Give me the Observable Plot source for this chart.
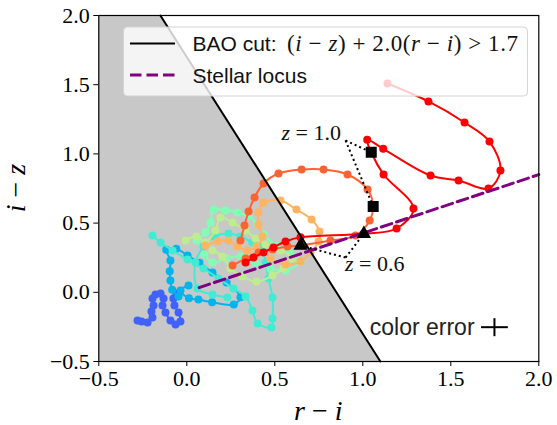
<!DOCTYPE html>
<html><head><meta charset="utf-8">
<script src="https://cdn.jsdelivr.net/npm/d3@7"></script>
<script src="https://cdn.jsdelivr.net/npm/@observablehq/plot@0.6"></script>
<style>
body{margin:0;background:#fff;}
#chart{width:557px;height:425px;position:relative;}
</style></head><body><div id="chart"></div>
<script>
// ---- axes ----
const xDomain = [-0.5, 2.0];
const yDomain = [-0.5, 2.0];
const xTicks = [-0.5, 0.0, 0.5, 1.0, 1.5, 2.0];
const yTicks = [-0.5, 0.0, 0.5, 1.0, 1.5, 2.0];
const xLabel = "r − i";
const yLabel = "i − z";

// ---- BAO cut: (i-z) + 2.0 (r-i) > 1.7 ----
const baoIntercept = 1.7;
const baoSlope = 2.0;

// ---- stellar locus (r-i, i-z) ----
const stellarLocus = [[0.07, 0.034], [2.0, 0.85]];

// ---- template colour tracks, (r-i, i-z) ----
const trackColors = ["#4062fa", "#00b4ec", "#40ecd4", "#80ffb4", "#bfec8e", "#ffb462", "#ff6232", "#ff0000"];
const trackBlue = [[-0.280,-0.204],[-0.257,-0.211],[-0.223,-0.218],[-0.195,-0.182],[-0.201,-0.139],[-0.189,-0.095],[-0.195,-0.045],[-0.178,-0.016],[-0.149,-0.009],[-0.132,-0.045],[-0.138,-0.095],[-0.121,-0.146],[-0.093,-0.204],[-0.064,-0.233],[-0.036,-0.211],[-0.047,-0.146],[-0.070,-0.095],[-0.076,-0.045],[-0.059,-0.009]];
const trackDodger = [[-0.047,-0.030],[-0.083,0.018],[-0.093,0.085],[-0.097,0.152],[-0.093,0.230],[-0.117,0.307],[-0.060,0.314],[0.004,0.266],[0.072,0.213],[0.146,0.143],[0.226,0.071],[0.305,-0.035],[0.267,-0.088],[0.144,-0.072],[0.066,-0.052],[0.012,-0.043],[-0.036,0.013],[0.010,0.049]];
const trackTurquoise = [[-0.195,0.410],[-0.149,0.360],[-0.081,0.302],[0.004,0.237],[0.095,0.172],[0.180,0.100],[0.265,0.027],[0.334,-0.030],[0.373,-0.132],[0.402,-0.225],[0.481,-0.254],[0.487,-0.189],[0.487,-0.038],[0.464,0.100],[0.447,0.215],[0.430,0.331],[0.373,0.360],[0.305,0.403],[0.237,0.425],[0.157,0.403],[0.095,0.331],[0.049,0.215],[0.061,0.027],[0.146,-0.016],[0.231,-0.038]];
const trackAqua = [[0.055,0.374],[0.106,0.432],[0.135,0.504],[0.152,0.598],[0.220,0.591],[0.288,0.577],[0.351,0.548],[0.402,0.490],[0.436,0.418],[0.510,0.338],[0.589,0.288],[0.646,0.223],[0.561,0.158],[0.475,0.172],[0.390,0.215],[0.305,0.259],[0.226,0.244],[0.146,0.215],[0.100,0.273]];
const trackLime = [[-0.007,0.374],[0.055,0.403],[0.106,0.360],[0.163,0.447],[0.191,0.541],[0.260,0.504],[0.334,0.447],[0.390,0.389],[0.447,0.345],[0.532,0.302],[0.601,0.244],[0.549,0.172],[0.487,0.121],[0.396,0.078],[0.316,0.114],[0.248,0.172],[0.203,0.259],[0.146,0.302]];
const trackSand = [[0.106,0.338],[0.175,0.367],[0.237,0.374],[0.288,0.331],[0.345,0.302],[0.396,0.331],[0.430,0.403],[0.407,0.490],[0.407,0.577],[0.436,0.649],[0.532,0.663],[0.623,0.598],[0.709,0.526],[0.754,0.439],[0.749,0.367],[0.703,0.288],[0.646,0.223],[0.561,0.201],[0.475,0.244]];
const trackTomato = [[0.260,0.194],[0.334,0.244],[0.408,0.288],[0.487,0.309],[0.572,0.331],[0.646,0.338],[0.816,0.374],[0.959,0.410],[1.039,0.519],[1.059,0.620],[1.027,0.743],[0.913,0.851],[0.777,0.887],[0.652,0.887],[0.521,0.858],[0.436,0.786],[0.385,0.685],[0.351,0.584],[0.328,0.483],[0.305,0.374]];
const trackRed = [[0.334,0.215],[0.379,0.251],[0.436,0.288],[0.493,0.324],[0.561,0.367],[0.646,0.397],[1.006,0.423],[1.192,0.461],[1.288,0.605],[1.118,0.851],[1.048,1.012],[1.025,1.102],[1.116,1.037],[1.385,0.844],[1.544,0.808],[1.714,0.750],[1.782,0.880],[1.720,1.089],[1.578,1.227],[1.373,1.379],[1.140,1.509]];
const tracks = [trackBlue, trackDodger, trackTurquoise, trackAqua, trackLime, trackSand, trackTomato, trackRed];

// ---- redshift markers ----
const zSquares = [[1.048, 1.012], [1.059, 0.620]];   // z = 1.0
const zTriangles = [[0.646, 0.338], [1.006, 0.423]]; // z = 0.6
const z10Corner = [0.902, 1.097];
const z06Corner = [0.902, 0.251];
const z10Text = ["z", " = 1.0"];
const z06Text = ["z", " = 0.6"];
const z10TextPos = [0.879, 1.097];
const z06TextPos = [0.902, 0.147];

// ---- colour error cross ----
const errorCenter = [1.748, -0.252];
const errorX = 0.076;
const errorY = 0.065;
const errorLabel = "color error";

// ---- legend ----
const legendBao = "BAO cut:";
const legendStar = "Stellar locus";

const fmt = d => d.toFixed(1).replace("-", "\u2212");
const X = d => d[0], Y = d => d[1];

const marks = [
  Plot.areaX(yDomain, {y: d => d, x1: () => xDomain[0], x2: d => (baoIntercept - d) / baoSlope, fill: "#c8c8c8"})
];
tracks.forEach((t, i) => {
  marks.push(Plot.line(t, {x: X, y: Y, stroke: trackColors[i], strokeWidth: 2, curve: "catmull-rom"}));
  marks.push(Plot.dot(t, {x: X, y: Y, r: 4, fill: trackColors[i], stroke: "none"}));
});
marks.push(
  Plot.line(yDomain, {x: d => (baoIntercept - d) / baoSlope, y: d => d, stroke: "black", strokeWidth: 2}),
  Plot.line(stellarLocus, {x: X, y: Y, stroke: "#800080", strokeWidth: 3, strokeDasharray: "11,5"}),
  Plot.link(zSquares, {x1: () => z10Corner[0], y1: () => z10Corner[1], x2: X, y2: Y, stroke: "black", strokeWidth: 2, strokeDasharray: "2,3"}),
  Plot.link(zTriangles, {x1: () => z06Corner[0], y1: () => z06Corner[1], x2: X, y2: Y, stroke: "black", strokeWidth: 2, strokeDasharray: "2,3"}),
  Plot.dot(zSquares, {x: X, y: Y, symbol: "square", r: 6.2, fill: "black"}),
  Plot.dot(zTriangles, {x: X, y: Y, symbol: "triangle", r: 5.3, fill: "black"}),
  Plot.link([errorCenter], {x1: d => d[0] - errorX, x2: d => d[0] + errorX, y1: Y, y2: Y, stroke: "black", strokeWidth: 2}),
  Plot.link([errorCenter], {x1: X, x2: X, y1: d => d[1] - errorY, y2: d => d[1] + errorY, stroke: "black", strokeWidth: 2}),
  Plot.text([errorLabel], {x: () => errorCenter[0] - 0.113, y: () => errorCenter[1], text: d => d, textAnchor: "end", lineAnchor: "middle", fontFamily: "Liberation Sans", fontSize: 23, fill: "#222"}),
  Plot.frame({stroke: "black", strokeWidth: 1.2})
);

const chart = Plot.plot({
  width: 557, height: 425,
  marginLeft: 98.3, marginRight: 18.7, marginTop: 15, marginBottom: 64,
  x: {domain: xDomain, ticks: xTicks, tickFormat: fmt, tickSize: 5, tickPadding: 4, label: null},
  y: {domain: yDomain, ticks: yTicks, tickFormat: fmt, tickSize: 5, tickPadding: 4, label: null},
  style: {fontFamily: "Liberation Serif", fontSize: "22px", background: "white", color: "black", overflow: "visible"},
  marks
});
document.getElementById("chart").appendChild(chart);

const xs = chart.scale("x"), ys = chart.scale("y");
const svg = d3.select(chart);
const serif = "Liberation Serif", sans = "Liberation Sans";

function mathText(x, y, parts, anchor, size) {
  const t = svg.append("text").attr("x", x).attr("y", y).attr("text-anchor", anchor)
    .attr("font-family", serif).attr("font-size", size).attr("fill", "#111");
  parts.forEach((p, i) => t.append("tspan").attr("font-style", i % 2 === 0 ? "italic" : "normal").text(p));
  return t;
}
// z labels
mathText(xs.apply(z10TextPos[0]), ys.apply(z10TextPos[1]), z10Text, "end", 22);
mathText(xs.apply(z06TextPos[0]), ys.apply(z06TextPos[1]), z06Text, "start", 22);

// axis labels
const xl = svg.append("text").attr("x", (xs.apply(xDomain[0]) + xs.apply(xDomain[1])) / 2).attr("y", 420)
  .attr("text-anchor", "middle").attr("font-family", serif).attr("font-size", 28);
xl.append("tspan").attr("font-style", "italic").text(xLabel.split(" ")[0]);
xl.append("tspan").text(" " + xLabel.split(" ")[1] + " ");
xl.append("tspan").attr("font-style", "italic").text(xLabel.split(" ")[2]);
const ycy = (ys.apply(yDomain[0]) + ys.apply(yDomain[1])) / 2;
const yl = svg.append("text").attr("transform", `translate(25,${ycy}) rotate(-90)`)
  .attr("text-anchor", "middle").attr("font-family", serif).attr("font-size", 28);
yl.append("tspan").attr("font-style", "italic").text(yLabel.split(" ")[0]);
yl.append("tspan").text(" " + yLabel.split(" ")[1] + " ");
yl.append("tspan").attr("font-style", "italic").text(yLabel.split(" ")[2]);

// legend
const lg = svg.append("g").attr("text-anchor", "start");
lg.append("rect").attr("x", 123.5).attr("y", 27).attr("width", 404).attr("height", 69).attr("rx", 4)
  .attr("fill", "white").attr("fill-opacity", 0.8).attr("stroke", "#d4d4d4").attr("stroke-width", 1);
lg.append("line").attr("x1", 130).attr("x2", 175).attr("y1", 43.5).attr("y2", 43.5).attr("stroke", "black").attr("stroke-width", 2);
lg.append("text").attr("x", 192.5).attr("y", 51).attr("text-anchor", "start").attr("font-family", sans).attr("font-size", 21).attr("fill", "#111").text(legendBao);
const mt = lg.append("text").attr("x", 287).attr("y", 51).attr("text-anchor", "start").attr("font-family", serif).attr("font-size", 23)
  .attr("fill", "#111").attr("textLength", 231).attr("lengthAdjust", "spacing");
[["(", 0], ["i", 1], [" − ", 0], ["z", 1], [") + 2.0(", 0], ["r", 1], [" − ", 0], ["i", 1], [") > 1.7", 0]]
  .forEach(([s, it]) => mt.append("tspan").attr("font-style", it ? "italic" : "normal").text(s));
lg.append("line").attr("x1", 130).attr("x2", 175).attr("y1", 75).attr("y2", 75).attr("stroke", "#800080")
  .attr("stroke-width", 3).attr("stroke-dasharray", "11.5,5");
lg.append("text").attr("x", 192.5).attr("y", 83).attr("text-anchor", "start").attr("font-family", sans).attr("font-size", 21).attr("fill", "#111").text(legendStar);
</script></body></html>
